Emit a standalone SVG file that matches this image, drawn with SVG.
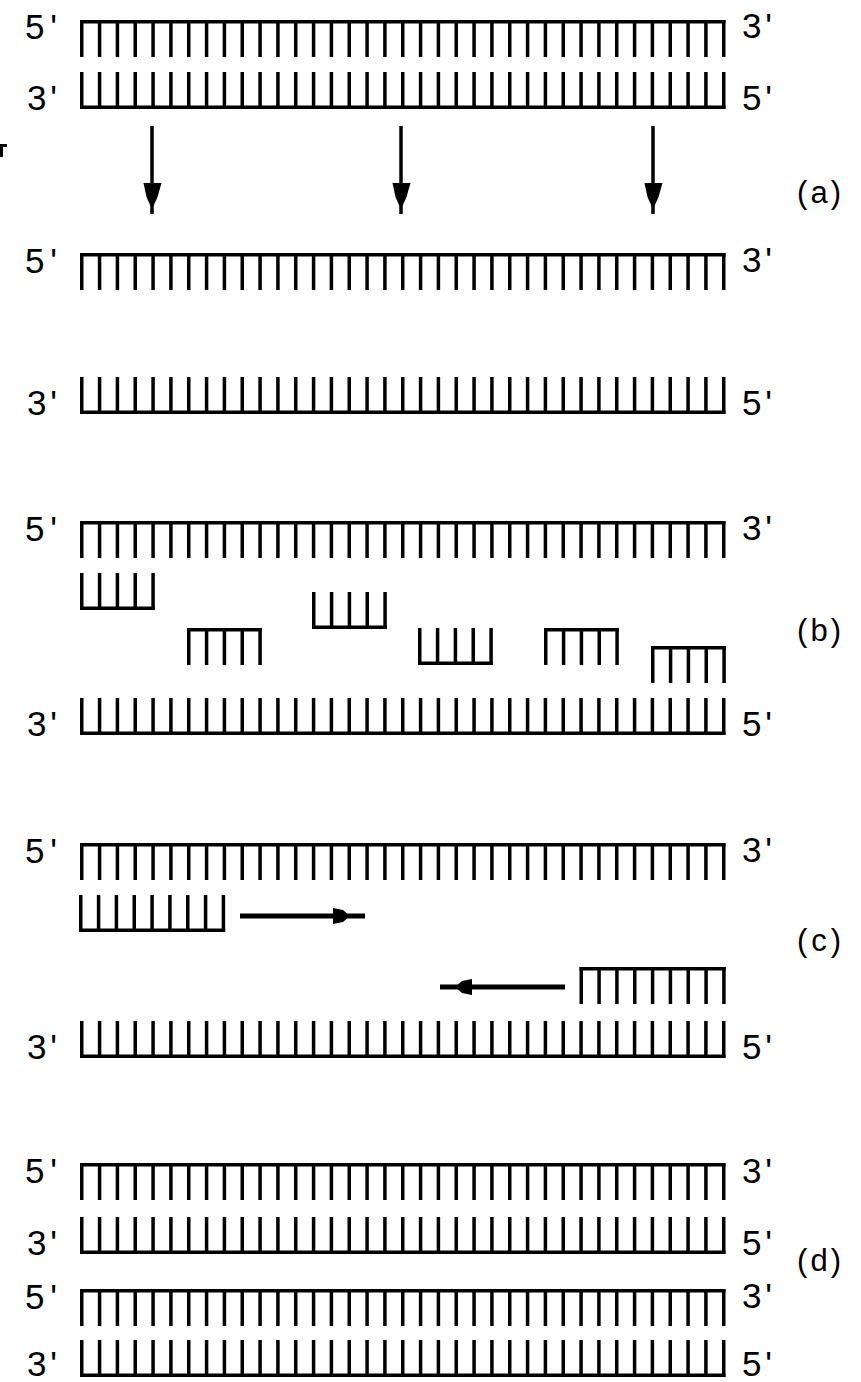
<svg xmlns="http://www.w3.org/2000/svg" xmlns:xlink="http://www.w3.org/1999/xlink" width="861" height="1382" viewBox="0 0 861 1382">
<style>
.ln{fill:none;stroke:#000;stroke-width:3.5}
.tk{fill:none;stroke:#000;stroke-width:37;stroke-dasharray:3.5 14.333}
.lbl{font-family:"Liberation Sans",Arial,sans-serif;font-size:35px;fill:#000}
.sec{font-family:"Liberation Sans",Arial,sans-serif;font-size:31px;fill:#000}
.ar{fill:none;stroke:#000;stroke-width:3.5}
.arh{fill:none;stroke:#000;stroke-width:5}
.hd{fill:#000}
</style>
<defs>
<g id="s5"><path class="ln" d="M80,1.75H725.5"/><path class="tk" d="M80,18.5H725.5"/></g>
<g id="s3"><path class="tk" d="M80,18.5H725.5"/><path class="ln" d="M80,35.25H725.5"/></g>
<g id="p5"><path class="ln" d="M0,1.75H74.83"/><path class="tk" d="M0,18.5H74.83"/></g>
<g id="p3"><path class="tk" d="M0,18.5H74.83"/><path class="ln" d="M0,35.25H74.83"/></g>
<g id="q5"><path class="ln" d="M0,1.75H146.17"/><path class="tk" d="M0,18.5H146.17"/></g>
<g id="q3"><path class="tk" d="M0,18.5H146.17"/><path class="ln" d="M0,35.25H146.17"/></g>
</defs>
<rect width="861" height="1382" fill="#fff"/>

<g id="panel-a">
<g id="a-ds5"><use xlink:href="#s5" y="20"/><text class="lbl" x="25" y="39" textLength="32">5'</text><text class="lbl" x="742" y="38" textLength="30">3'</text></g>
<g id="a-ds3"><use xlink:href="#s3" y="72"/><text class="lbl" x="27" y="110" textLength="30">3'</text><text class="lbl" x="742" y="110" textLength="30">5'</text></g>
<g id="a-ss5"><use xlink:href="#s5" y="253"/><text class="lbl" x="25" y="273" textLength="32">5'</text><text class="lbl" x="742" y="272" textLength="30">3'</text></g>
<g id="a-ss3"><use xlink:href="#s3" y="377"/><text class="lbl" x="27" y="415" textLength="30">3'</text><text class="lbl" x="742" y="415" textLength="30">5'</text></g>
<text id="lab-a" class="sec" x="797" y="203" textLength="44">(a)</text>
</g>

<g id="panel-b">
<g id="b-s5"><use xlink:href="#s5" y="521"/><text class="lbl" x="25" y="541" textLength="32">5'</text><text class="lbl" x="742" y="540" textLength="30">3'</text></g>
<g id="b-p1"><use xlink:href="#p3" x="80" y="573"/></g>
<g id="b-p2"><use xlink:href="#p5" x="187" y="628"/></g>
<g id="b-p3"><use xlink:href="#p3" x="312" y="592"/></g>
<g id="b-p4"><use xlink:href="#p3" x="418" y="628"/></g>
<g id="b-p5"><use xlink:href="#p5" x="544" y="628"/></g>
<g id="b-p6"><use xlink:href="#p5" x="651" y="646"/></g>
<g id="b-s3"><use xlink:href="#s3" y="698"/><text class="lbl" x="27" y="736" textLength="30">3'</text><text class="lbl" x="742" y="736" textLength="30">5'</text></g>
<text id="lab-b" class="sec" x="797" y="641" textLength="44">(b)</text>
</g>

<g id="panel-c">
<g id="c-s5"><use xlink:href="#s5" y="843"/><text class="lbl" x="25" y="863" textLength="32">5'</text><text class="lbl" x="742" y="862" textLength="30">3'</text></g>
<g id="c-p1"><use xlink:href="#q3" x="79" y="895"/></g>
<g id="c-p2"><use xlink:href="#q5" x="579.5" y="967"/></g>
<g id="c-s3"><use xlink:href="#s3" y="1021"/><text class="lbl" x="27" y="1059" textLength="30">3'</text><text class="lbl" x="742" y="1059" textLength="30">5'</text></g>
<text id="lab-c" class="sec" x="797" y="951" textLength="44">(c)</text>
</g>

<g id="panel-d">
<g id="d-s1"><use xlink:href="#s5" y="1163"/><text class="lbl" x="25" y="1183" textLength="32">5'</text><text class="lbl" x="742" y="1183" textLength="30">3'</text></g>
<g id="d-s2"><use xlink:href="#s3" y="1217"/><text class="lbl" x="27" y="1255" textLength="30">3'</text><text class="lbl" x="742" y="1255" textLength="30">5'</text></g>
<g id="d-s3"><use xlink:href="#s5" y="1289"/><text class="lbl" x="25" y="1309" textLength="32">5'</text><text class="lbl" x="742" y="1308" textLength="30">3'</text></g>
<g id="d-s4"><use xlink:href="#s3" y="1340"/><text class="lbl" x="27" y="1376" textLength="30">3'</text><text class="lbl" x="742" y="1376" textLength="30">5'</text></g>
<text id="lab-d" class="sec" x="797" y="1271" textLength="44">(d)</text>
</g>

<g id="connectors">
<path class="ar" d="M152,126V214"/>
<polygon class="hd" points="143.5,183 161.5,183 157.5,197 153.5,206 150.5,206 146.5,197"/>
<path class="ar" d="M401,126V214"/>
<polygon class="hd" points="392.5,183 410.5,183 406.5,197 402.5,206 399.5,206 395.5,197"/>
<path class="ar" d="M653,126V214"/>
<polygon class="hd" points="644.5,183 662.5,183 658.5,197 654.5,206 651.5,206 647.5,197"/>
<path class="arh" d="M240,916H365"/>
<polygon class="hd" points="333,908 343,910 350,916 343,922 333,924"/>
<path class="arh" d="M565,987H440"/>
<polygon class="hd" points="472,979 462,981 455,987 462,993 472,995"/>
</g>

<path id="edge-mark" d="M0,145.5H7M1.5,145V157" fill="none" stroke="#000" stroke-width="3"/>
</svg>
